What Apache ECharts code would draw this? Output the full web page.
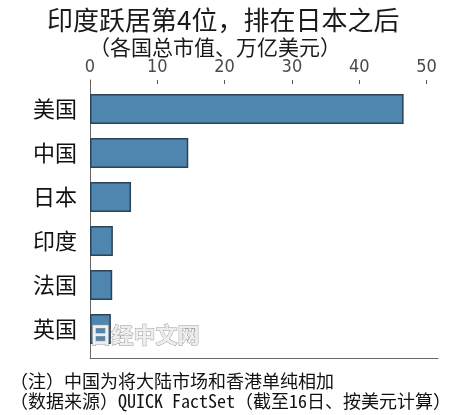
<!DOCTYPE html>
<html>
<head>
<meta charset="utf-8">
<script src="https://cdn.jsdelivr.net/npm/echarts@6/dist/echarts.min.js"></script>
<style>
  html, body { margin: 0; padding: 0; background: #fff; }
  #main { width: 450px; height: 415px; }
</style>
</head>
<body>
<div id="main"></div>
<script>
// 各国总市值（万亿美元），从图上读的
var countries = ['美国', '中国', '日本', '印度', '法国', '英国'];
var marketCap = [46.6, 14.6, 6.1, 3.4, 3.3, 3.1];
var xTicks = [0, 10, 20, 30, 40, 50];

var cjk = '"Noto Sans CJK SC", sans-serif';
var chart = echarts.init(document.getElementById('main'));

var option = {
    backgroundColor: '#fff',
    animation: false,
    title: [
        {
            text: '印度跃居第4位，排在日本之后',
            left: 42, top: 2,
            textStyle: { fontFamily: cjk, fontSize: 26, fontWeight: 'normal', color: '#1a1a1a' }
        },
        {
            text: '（各国总市值、万亿美元）',
            left: 84, top: 32,
            textStyle: { fontFamily: cjk, fontSize: 21, fontWeight: 'normal', color: '#1a1a1a' }
        },
        {
            text: '（注）中国为将大陆市场和香港单纯相加',
            left: 5, top: 367,
            textStyle: { fontFamily: cjk, fontSize: 18, fontWeight: 'normal', color: '#111' }
        },
        {
            text: '（数据来源）QUICK FactSet（截至16日、按美元计算）',
            left: 5, top: 387,
            textStyle: { fontFamily: '"Noto Sans Mono CJK SC", "Noto Sans CJK SC", sans-serif', fontSize: 18, fontWeight: 'normal', color: '#111' }
        }
    ],
    // 0: 外框线  1: 柱子
    grid: [
        { left: 90, top: 80, width: 348, height: 278, outerBoundsMode: 'none' },
        { left: 90, top: 87, width: 336.5, height: 264, outerBoundsMode: 'none' }
    ],
    xAxis: [
        {
            gridIndex: 0, type: 'value', position: 'top', min: 0, max: 1,
            axisLine: { show: true, lineStyle: { color: '#666', width: 1 } },
            axisTick: { show: false }, axisLabel: { show: false }, splitLine: { show: false }
        },
        {
            gridIndex: 1, type: 'value', position: 'top', offset: 7,
            min: 0, max: 50, interval: 10,
            axisLine: { show: false },
            axisTick: { show: true, inside: true, length: 4, lineStyle: { color: '#555' } },
            axisLabel: {
                margin: 4, fontSize: 18, color: '#4a4a4a',
                fontFamily: '"Liberation Sans Narrow", "DejaVu Sans Condensed", sans-serif',
                formatter: function (v) { return xTicks.indexOf(v) >= 0 ? String(v) : ''; }
            },
            splitLine: { show: false }
        }
    ],
    yAxis: [
        {
            gridIndex: 0, type: 'value', min: 0, max: 1,
            axisLine: { show: true, lineStyle: { color: '#666', width: 1 } },
            axisTick: { show: false }, axisLabel: { show: false }, splitLine: { show: false }
        },
        {
            gridIndex: 1, type: 'category', inverse: true, data: countries,
            axisLine: { show: false }, axisTick: { show: false },
            axisLabel: { margin: 13, fontSize: 22, color: '#111', fontFamily: cjk }
        }
    ],
    series: [{
        type: 'bar',
        xAxisIndex: 1, yAxisIndex: 1,
        data: marketCap,
        barWidth: 30,
        itemStyle: { color: '#4f86b0', borderColor: '#2b4257', borderWidth: 1.5 }
    }],
    graphic: [{
        type: 'text', left: 89, top: 323, z: 100,
        style: {
            text: '日经中文网', fontFamily: cjk, fontSize: 22, fontWeight: 'bold',
            fill: '#eeeeee', stroke: '#9a9a9a', lineWidth: 1
        }
    }]
};
chart.setOption(option);
</script>
</body>
</html>
